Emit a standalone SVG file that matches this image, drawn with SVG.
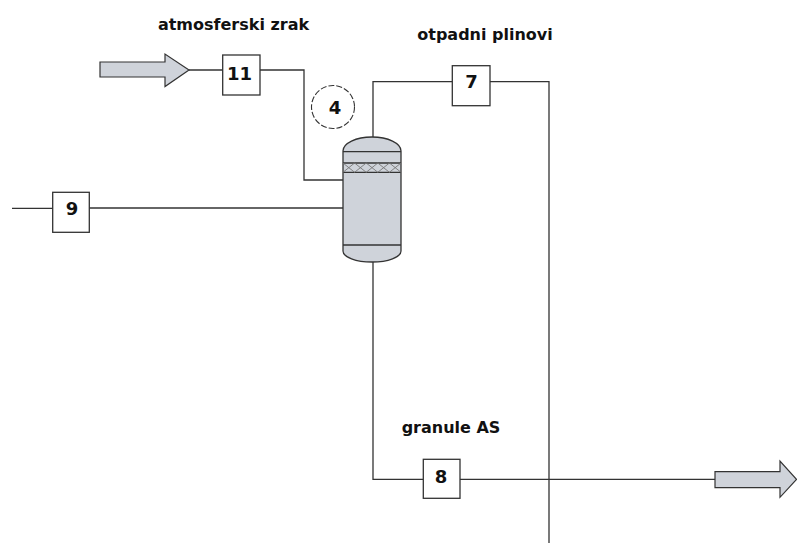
<svg xmlns="http://www.w3.org/2000/svg" width="797" height="545" viewBox="0 0 797 545">
<style>
.ln{fill:none;stroke:#333;stroke-width:1.3}
.box{fill:#fff;stroke:#333;stroke-width:1.3}
.num{font-family:"DejaVu Sans",sans-serif;font-weight:bold;font-size:18px;text-anchor:middle;fill:#111}
.lbl{font-family:"DejaVu Sans",sans-serif;font-weight:bold;font-size:16px;text-anchor:middle;fill:#111}
.arr{fill:#cfd3da;stroke:#333;stroke-width:1.2}
</style>
<rect width="797" height="545" fill="#fff"/>
<g id="connectors">
<polyline class="ln" points="189,70 223,70"/>
<polyline class="ln" points="260,70 304,70 304,180 343,180"/>
<polyline class="ln" points="12,208.3 53,208.3"/>
<polyline class="ln" points="89,208 343,208"/>
<polyline class="ln" points="373,137 373,81.7 452,81.7"/>
<polyline class="ln" points="490,81.7 549,81.7 549,543"/>
<polyline class="ln" points="373,262 373,479.3 423,479.3"/>
<polyline class="ln" points="460,479.3 715,479.3"/>
</g>
<g id="arrow-in">
<polygon class="arr" points="100,62 165,62 165,54 189,70 165,86.5 165,77 100,77"/>
</g>
<g id="arrow-out">
<polygon class="arr" points="715,471.7 780,471.7 780,461 796.5,479.3 780,497.3 780,487.7 715,487.7"/>
</g>
<g id="vessel-4">
<path d="M343,151 A29,14 0 0 1 401,151 L401,251 A29,11 0 0 1 343,251 Z" fill="#cfd3da" stroke="#333" stroke-width="1.3"/>
<line class="ln" x1="343" y1="151.7" x2="401" y2="151.7"/>
<line class="ln" x1="343" y1="163" x2="401" y2="163"/>
<line class="ln" x1="343" y1="172.3" x2="401" y2="172.3"/>
<path d="M343,163 L354.6,172.3 M354.6,163 L343,172.3 M354.6,163 L366.2,172.3 M366.2,163 L354.6,172.3 M366.2,163 L377.8,172.3 M377.8,163 L366.2,172.3 M377.8,163 L389.4,172.3 M389.4,163 L377.8,172.3 M389.4,163 L401,172.3 M401,163 L389.4,172.3" fill="none" stroke="#777" stroke-width="0.9"/>
<line class="ln" x1="343" y1="245" x2="401" y2="245"/>
<circle cx="333" cy="107" r="21.5" fill="#fff" stroke="#333" stroke-width="1.1" stroke-dasharray="6,2"/>
<text class="num" x="335" y="113.7">4</text>
</g>
<g id="stream-11">
<rect class="box" x="222.7" y="55" width="37.3" height="40"/>
<text class="num" x="239.5" y="79.5">11</text>
</g>
<g id="stream-7">
<rect class="box" x="452.3" y="65.7" width="37.7" height="40"/>
<text class="num" x="471.5" y="88.3">7</text>
</g>
<g id="stream-9">
<rect class="box" x="52.7" y="192.3" width="36.6" height="40"/>
<text class="num" x="72" y="215">9</text>
</g>
<g id="stream-8">
<rect class="box" x="423.3" y="459.3" width="36.7" height="39"/>
<text class="num" x="441" y="482.7">8</text>
</g>
<g id="labels">
<text class="lbl" x="233.5" y="30">atmosferski zrak</text>
<text class="lbl" x="485" y="40">otpadni plinovi</text>
<text class="lbl" x="451" y="433">granule AS</text>
</g>
</svg>
